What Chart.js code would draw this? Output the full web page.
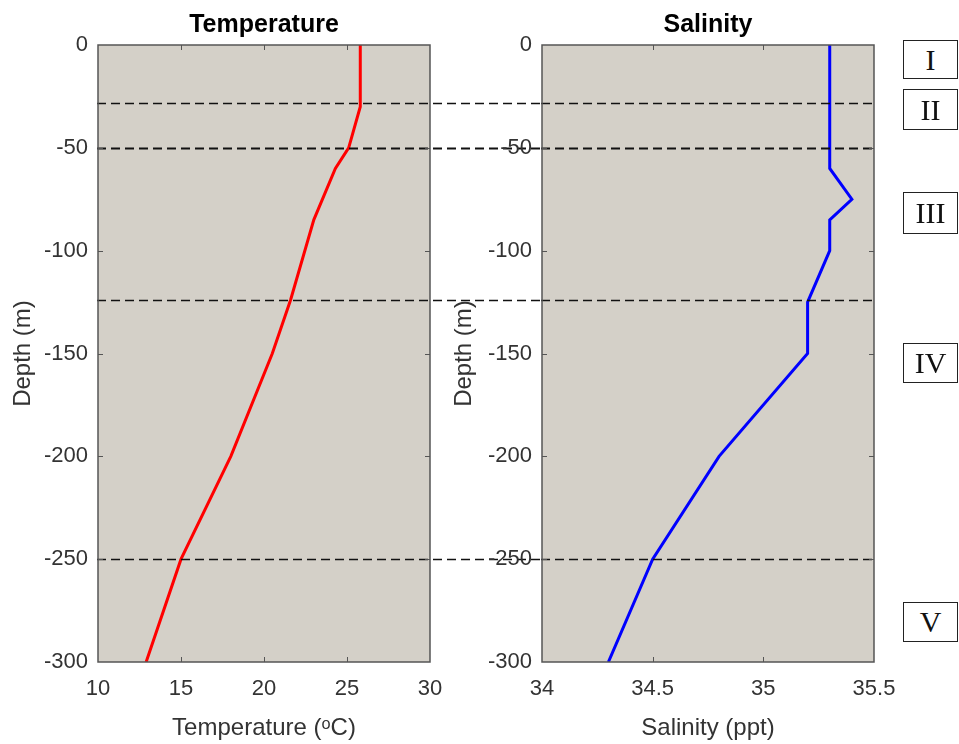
<!DOCTYPE html>
<html>
<head>
<meta charset="utf-8">
<script src="https://cdn.jsdelivr.net/npm/chart.js@4"></script>
<style>
  body { margin: 0; background: #fff; }
  #wrap { position: relative; width: 959px; height: 744px; overflow: hidden; }
  canvas { position: absolute; top: 0; }
  #tempChart { left: 0; }
  #salChart { left: 441px; }
  .layer {
    position: absolute; left: 903px; width: 53px;
    border: 1px solid #222; background: #fff;
    font-family: "Liberation Serif", "DejaVu Serif", serif; font-size: 30px;
    display: flex; align-items: center; justify-content: center; color: #111;
  }
</style>
</head>
<body>
<div id="wrap">
  <canvas id="tempChart" width="542" height="744"></canvas>
  <canvas id="salChart" width="518" height="744"></canvas>
</div>
<script>
// Temperature profile
const tempDepth = [0, -30, -50, -60, -85, -124, -150, -200, -250, -300];
const tempValues = [25.8, 25.8, 25.1, 24.3, 23.0, 21.6, 20.5, 18.0, 15.0, 12.9];

// Salinity profile
const salDepth = [0, -50, -60, -75, -85, -100, -125, -150, -200, -250, -300];
const salValues = [35.3, 35.3, 35.3, 35.4, 35.3, 35.3, 35.2, 35.2, 34.8, 34.5, 34.3];

// Layer boundaries and names
const layerDepths = [-28, -50, -124, -250];
const layerLabels = ['I', 'II', 'III', 'IV', 'V'];

// Tick labels
const depthTicks = [0, -50, -100, -150, -200, -250, -300];
const tempTicks = [10, 15, 20, 25, 30];
const salTicks = [34, 34.5, 35, 35.5];

// box placement for the layer labels (top, height) and dash widths
const layerBoxes = [[40, 37], [89, 39], [192, 40], [343, 38], [602, 38]];
const dashWidths = [1.5, 2.2, 1.5, 1.5];

const FONT = '"Liberation Sans", Arial, sans-serif';
const PLOT_BG = '#d4d0c8';
const FRAME = '#555555';

layerLabels.forEach(function(txt, i) {
    const d = document.createElement('div');
    d.className = 'layer';
    d.textContent = txt;
    d.style.top = layerBoxes[i][0] + 'px';
    d.style.height = layerBoxes[i][1] + 'px';
    document.getElementById('wrap').appendChild(d);
});

// plot background, dashed layer lines, matlab-like box with inward ticks
function profilePlugin(extendRight) {
    return {
        id: 'profile',
        beforeDatasetsDraw(chart) {
            const a = chart.chartArea, ctx = chart.ctx;
            ctx.save();
            ctx.fillStyle = PLOT_BG;
            ctx.fillRect(a.left, a.top, a.right - a.left, a.bottom - a.top);
            ctx.restore();
        },
        afterDatasetsDraw(chart) {
            const a = chart.chartArea, ctx = chart.ctx;
            const xs = chart.scales.x, ys = chart.scales.y;
            ctx.save();
            // layer boundaries (left chart carries them across the gap)
            ctx.strokeStyle = '#111';
            ctx.setLineDash([9, 5]);
            layerDepths.forEach(function(d, i) {
                const y = Math.round(ys.getPixelForValue(d)) + 0.5;
                ctx.lineWidth = dashWidths[i];
                ctx.beginPath();
                ctx.moveTo(a.left - 1, y);
                ctx.lineTo(extendRight ? chart.width : a.right + 1, y);
                ctx.stroke();
            });
            ctx.setLineDash([]);
            // frame
            ctx.strokeStyle = FRAME;
            ctx.lineWidth = 1.5;
            ctx.strokeRect(a.left, a.top, a.right - a.left, a.bottom - a.top);
            // inward ticks
            ctx.lineWidth = 1;
            ctx.beginPath();
            xs.ticks.forEach(function(t) {
                const x = Math.round(xs.getPixelForValue(t.value)) + 0.5;
                if (x <= a.left + 2 || x >= a.right - 2) return;
                ctx.moveTo(x, a.bottom); ctx.lineTo(x, a.bottom - 5);
                ctx.moveTo(x, a.top); ctx.lineTo(x, a.top + 5);
            });
            ys.ticks.forEach(function(t) {
                const y = Math.round(ys.getPixelForValue(t.value)) + 0.5;
                if (y <= a.top + 2 || y >= a.bottom - 2) return;
                ctx.moveTo(a.left, y); ctx.lineTo(a.left + 5, y);
                ctx.moveTo(a.right, y); ctx.lineTo(a.right - 5, y);
            });
            ctx.stroke();
            ctx.restore();
        }
    };
}

function makeProfile(canvasId, opts) {
    const points = opts.values.map(function(v, i) { return {x: v, y: opts.depth[i]}; });
    const xMin = opts.xTicks[0], xMax = opts.xTicks[opts.xTicks.length - 1];
    return new Chart(document.getElementById(canvasId).getContext('2d'), {
        type: 'scatter',
        data: {
            datasets: [{
                data: points,
                showLine: true,
                borderColor: opts.color,
                borderWidth: 3,
                pointRadius: 0,
                tension: 0
            }]
        },
        options: {
            responsive: false,
            animation: false,
            layout: { padding: { left: 0, right: opts.padRight, top: 0, bottom: 0 } },
            scales: {
                x: {
                    type: 'linear',
                    min: xMin,
                    max: xMax,
                    afterBuildTicks: function(s) { s.ticks = opts.xTicks.map(function(v) { return {value: v}; }); },
                    afterFit: function(s) { s.height = 82; },
                    grid: { display: false, drawTicks: false },
                    border: { display: false },
                    ticks: {
                        padding: 14, color: '#333', font: { family: FONT, size: 22 }, maxRotation: 0, autoSkip: false,
                        callback: function(value) { return String(value); }
                    },
                    title: { display: true, text: opts.xTitle, color: '#333', padding: { top: 0, bottom: 1 }, font: { family: FONT, size: 24 } }
                },
                // top axis only carries the panel title, centred over the plot box
                top: {
                    type: 'linear',
                    position: 'top',
                    min: xMin,
                    max: xMax,
                    afterFit: function(s) { s.height = 45; },
                    grid: { display: false, drawTicks: false },
                    border: { display: false },
                    ticks: { display: false },
                    title: { display: true, text: opts.title, color: '#000', padding: { top: 10, bottom: 0 }, font: { family: FONT, size: 25, weight: 'bold' } }
                },
                y: {
                    type: 'linear',
                    min: -300,
                    max: 0,
                    afterBuildTicks: function(s) { s.ticks = depthTicks.map(function(v) { return {value: v}; }); },
                    afterFit: function(s) { s.width = opts.yWidth; },
                    grid: { display: false, drawTicks: false },
                    border: { display: false },
                    ticks: { padding: 10, color: '#333', font: { family: FONT, size: 22 }, autoSkip: false },
                    title: { display: true, text: 'Depth (m)', color: '#333', padding: { top: 9, bottom: 0 }, font: { family: FONT, size: 24 } }
                }
            },
            plugins: {
                legend: { display: false },
                tooltip: { enabled: false }
            }
        },
        plugins: [profilePlugin(opts.extendRight)]
    });
}

const tempChart = makeProfile('tempChart', {
    depth: tempDepth, values: tempValues, color: '#ff0000',
    xTicks: tempTicks, xTitle: 'Temperature (ᵒC)', title: 'Temperature',
    yWidth: 98, padRight: 112, extendRight: true
});

const salChart = makeProfile('salChart', {
    depth: salDepth, values: salValues, color: '#0000ff',
    xTicks: salTicks, xTitle: 'Salinity (ppt)', title: 'Salinity',
    yWidth: 101, padRight: 85, extendRight: false
});
</script>
</body>
</html>
